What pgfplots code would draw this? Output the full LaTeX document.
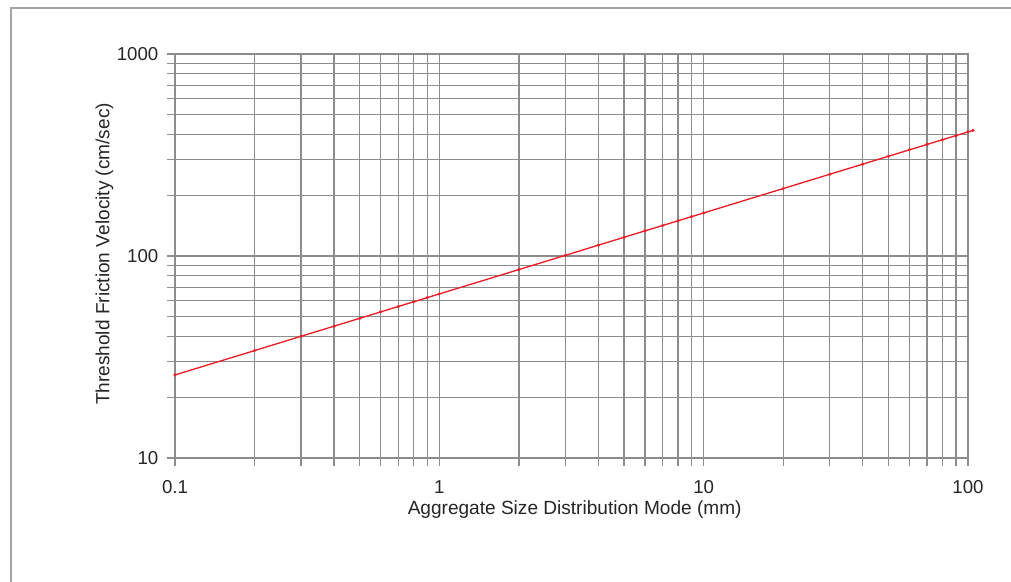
\documentclass[border=0pt]{standalone}
\usepackage{fontspec}
\setmainfont{Liberation Sans}
\usepackage{pgfplots}
\pgfplotsset{compat=1.18}
\definecolor{gridgray}{RGB}{140,140,140}
\definecolor{framegray}{RGB}{165,165,165}
\definecolor{linered}{RGB}{232,30,40}
\begin{document}
\begin{tikzpicture}[x=0.75pt,y=0.75pt]
\path[use as bounding box] (0,0) rectangle (1011,582);
\draw[framegray, line width=1.5pt] (11,0) -- (11,574) -- (1011,574);
\begin{axis}[
  at={(131.25pt,93pt)}, anchor=south west,
  scale only axis, width=594.75pt, height=303pt,
  xmode=log, ymode=log,
  xmin=0.1, xmax=100, ymin=10, ymax=1000,
  xtick={0.1,1,10,100}, xticklabels={0.1,1,10,100},
  ytick={10,100,1000}, yticklabels={10,100,1000},
  minor xtick={0.2,0.3,0.4,0.5,0.6,0.7,0.8,0.9,2,3,4,5,6,7,8,9,20,30,40,50,60,70,80,90},
  minor ytick={20,30,40,50,60,70,80,90,200,300,400,500,600,700,800,900},
  grid=both,
  grid style={gridgray, line width=1pt},
  minor grid style={gridgray, line width=1pt},
  major grid style={gridgray, line width=1pt},
  axis line style={gridgray, line width=1pt},
  tick style={gridgray, line width=1pt},
  tick align=outside,
  major tick length=6pt, minor tick length=6pt,
  xtick pos=left, ytick pos=left,
  ticklabel style={font=\fontsize{14}{16}\selectfont, text=black!85},
  xticklabel style={yshift=-7.5pt},
  yticklabel style={xshift=-3pt},
  label style={font=\fontsize{14.3}{17}\selectfont, text=black!85},
  xlabel={Aggregate Size Distribution Mode (mm)},
  ylabel={Threshold Friction Velocity (cm/sec)},
  xlabel style={at={(axis description cs:0.504,-0.1275)}, anchor=center},
  ylabel style={at={(axis description cs:-0.089,0.505)}, anchor=center, rotate=0},
  clip=false,
]
\addplot[linered, line width=1pt, mark=*, mark size=0.6pt] coordinates {
(0.1,25.77) (0.2,34.02) (0.3,40.05) (0.4,44.95) (0.5,49.15) (0.6,52.88) (0.7,56.25) (0.8,59.34) (0.9,62.21)
(1,64.9) (2,85.66) (3,100.8) (4,113.2) (5,123.8) (6,133.2) (7,141.6) (8,149.4) (9,156.6)
(10,163.4) (20,215.7) (30,253.9) (40,285.0) (50,311.7) (60,335.3) (70,356.7) (80,376.3) (90,394.4)
(100,411.4) (104.5,418.7)
};
\end{axis}
\end{tikzpicture}
\end{document}
